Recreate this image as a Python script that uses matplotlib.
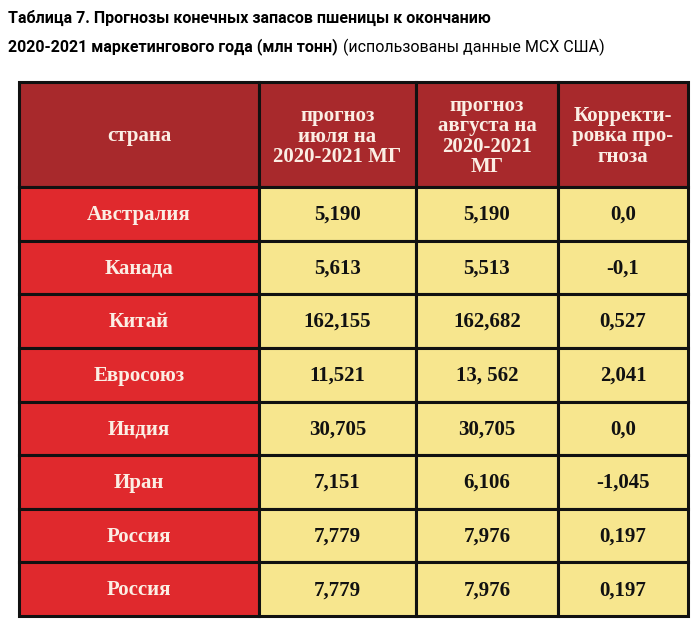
import matplotlib
matplotlib.use("Agg")
import matplotlib.pyplot as plt
from matplotlib.patches import Rectangle

countries = ["Австралия", "Канада", "Китай", "Евросоюз", "Индия", "Иран", "Россия", "Россия"]
july = ["5,190", "5,613", "162,155", "11,521", "30,705", "7,151", "7,779", "7,779"]
august = ["5,190", "5,513", "162,682", "13, 562", "30,705", "6,106", "7,976", "7,976"]
correction = ["0,0", "-0,1", "0,527", "2,041", "0,0", "-1,045", "0,197", "0,197"]
headers = ["страна", "прогноз\nиюля на\n2020-2021 МГ", "прогноз\nавгуста на\n2020-2021\nМГ", "Корректи-\nровка про-\nгноза"]

fig = plt.figure(figsize=(7, 6.26), dpi=100)
ax = fig.add_axes([0, 0, 1, 1])
ax.set_xlim(0, 700)
ax.set_ylim(626, 0)
ax.axis("off")

fig.text(8/700, 1-18/626, "Таблица 7. Прогнозы конечных запасов пшеницы к окончанию",
         fontsize=11.5, fontweight="bold", family="Roboto", va="center", stretch="condensed")
t = fig.text(8/700, 1-47/626, "2020-2021 маркетингового года (млн тонн)", fontsize=11.5,
             fontweight="bold", family="Roboto", va="center")
fig.canvas.draw()
bb = t.get_window_extent()
fig.text((bb.x1 + 5)/700, 1-47/626, "(использованы данные МСХ США)", fontsize=11.5,
         family="Roboto", va="center")

col_x = [19, 259, 416, 558, 688]
top, head_bot, bottom = 82, 187, 616
n = len(countries)
rh = (bottom - head_bot) / n
serif = "Liberation Serif"

for j, h in enumerate(headers):
    ax.add_patch(Rectangle((col_x[j], top), col_x[j+1]-col_x[j], head_bot-top,
                           facecolor="#a8292c", edgecolor="#111", lw=2.2))
    ax.text((col_x[j]+col_x[j+1])/2, (top+head_bot)/2 + 2, h, ha="center", va="center",
            color="#fbeee4", fontsize=15, fontweight="bold", family=serif, linespacing=1.0)

for i in range(n):
    y0 = head_bot + i*rh
    vals = [countries[i], july[i], august[i], correction[i]]
    for j, v in enumerate(vals):
        fc = "#e0292d" if j == 0 else "#f7e68e"
        tc = "#fbeee4" if j == 0 else "#111111"
        ax.add_patch(Rectangle((col_x[j], y0), col_x[j+1]-col_x[j], rh,
                               facecolor=fc, edgecolor="#111", lw=2.2))
        ax.text((col_x[j]+col_x[j+1])/2, y0 + rh/2 + 1, v, ha="center", va="center",
                color=tc, fontsize=15, fontweight="bold", family=serif)

fig.savefig("out.png", dpi=100)
